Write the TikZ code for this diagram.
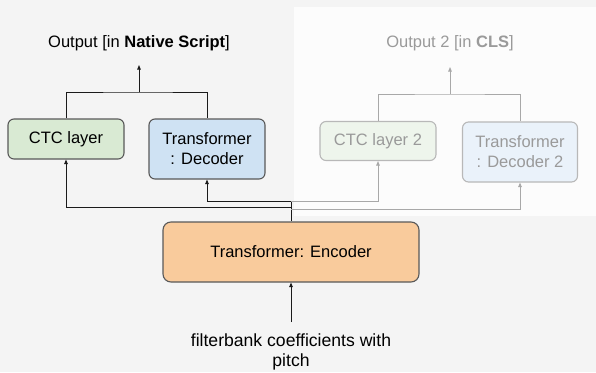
\documentclass[tikz,border=0pt]{standalone}
\usepackage{fontspec}
\setmainfont{Liberation Sans}
\usetikzlibrary{arrows.meta}
\definecolor{bgc}{HTML}{F4F4F4}
\definecolor{ovc}{HTML}{FCFCFC}
\definecolor{greenf}{HTML}{D9EAD3}
\definecolor{bluef}{HTML}{CFE2F3}
\definecolor{orangef}{HTML}{F9CB9C}
\definecolor{boxline}{HTML}{595959}
\definecolor{lnk}{HTML}{1A1A1A}
\definecolor{fadetext}{HTML}{9A9A9A}
\definecolor{fadeline}{HTML}{A8A8A8}
\definecolor{fadebox}{HTML}{B8B8B8}
\definecolor{greenfade}{HTML}{EEF5EC}
\definecolor{bluefade}{HTML}{EAF2FA}
\tikzset{
  lbl/.style={font=\fontsize{16.5}{20}\selectfont, align=center, inner sep=0pt},
  blk/.style={lbl, draw=boxline, line width=1.1pt, rounded corners=6pt},
  fblk/.style={lbl, draw=fadebox, line width=1.1pt, rounded corners=6pt, text=fadetext},
  conn/.style={draw=lnk, line width=0.9pt},
  fconn/.style={draw=fadeline, line width=0.9pt},
  tip/.style={-{Triangle[length=4.5pt,width=3.5pt]}},
}
\begin{document}
\begin{tikzpicture}[x=1pt,y=-1pt]
\fill[bgc] (0,0) rectangle (596,372);
\useasboundingbox (0,0) rectangle (596,372);
\fill[ovc] (294,7) rectangle (596,216);
% left nodes
\node[lbl] (out1) at (139,43) {Output [in \textbf{Native Script}]};
\node[blk, fill=greenf, minimum width=116pt, minimum height=40pt] (ctc) at (66,139) {CTC layer};
\node[blk, fill=bluef, minimum width=116pt, minimum height=60pt] (dec) at (207,149) {Transformer\\: Decoder};
\node[blk, fill=orangef, minimum width=256pt, minimum height=60pt, rounded corners=8pt] (enc) at (291,252) {Transformer: Encoder};
\node[lbl, font=\fontsize{17.6}{20.5}\selectfont] (inp) at (291,352) {filterbank coefficients with\\pitch};
% right nodes
\node[lbl, text=fadetext] (out2) at (450,43) {Output 2 [in \textbf{CLS}]};
\node[fblk, fill=greenfade, minimum width=116pt, minimum height=39pt] (ctc2) at (378,141) {CTC layer 2};
\node[fblk, fill=bluefade, minimum width=115pt, minimum height=60pt] (dec2) at (520,152) {Transformer\\: Decoder 2};
% coordinates
\coordinate (j1) at (139,92);
\coordinate (t1) at (139,65);
\coordinate (j2) at (450,94);
\coordinate (t2) at (450,67);
\coordinate (ea) at (291,201);
\coordinate (eb) at (291,207);
\coordinate (ec) at (291,209);
\coordinate (it) at (291,322);
% left connectors
\draw[conn] (ctc.north) |- (j1) -| (dec.north);
\draw[conn, tip] (j1) -- (t1);
\draw[conn] (enc.north) -- (ea);
\draw[conn, tip] (eb) -| (ctc.south);
\draw[conn, tip] (ea) -| (dec.south);
\draw[conn, tip] (it) -- (enc.south);
% right connectors
\draw[fconn] (ctc2.north) |- (j2) -| (dec2.north);
\draw[fconn, tip] (j2) -- (t2);
\draw[fconn, tip] (ea) -| (ctc2.south);
\draw[fconn, tip] (ec) -| (dec2.south);
\end{tikzpicture}
\end{document}
